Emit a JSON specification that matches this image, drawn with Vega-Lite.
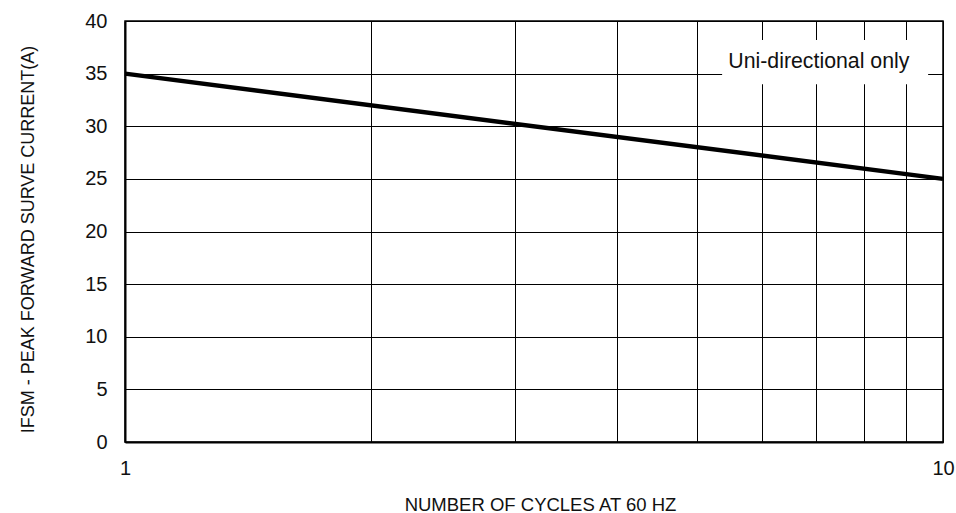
{
  "$schema": "https://vega.github.io/schema/vega-lite/v6.json",
  "width": 818,
  "height": 421,
  "autosize": {"type": "none"},
  "padding": {"left": 125, "top": 21, "right": 13, "bottom": 71},
  "background": "white",
  "config": {
    "font": "Liberation Sans",
    "view": {"stroke": "black", "strokeWidth": 1.5},
    "axis": {
      "labelFont": "Liberation Sans",
      "titleFont": "Liberation Sans",
      "labelColor": "#111",
      "titleColor": "#111",
      "titleFontWeight": "normal",
      "gridColor": "black",
      "gridOpacity": 1,
      "gridWidth": 1,
      "domainColor": "black",
      "domainWidth": 2,
      "ticks": false
    }
  },
  "datasets": {
    "curve": [
      {"cycles": 1, "current": 35},
      {"cycles": 10, "current": 25}
    ]
  },
  "layer": [
    {
      "data": {"name": "curve"},
      "mark": {"type": "line", "color": "black", "strokeWidth": 4.5},
      "encoding": {
        "x": {
          "field": "cycles",
          "type": "quantitative",
          "scale": {"type": "log", "domain": [1, 10], "nice": false},
          "axis": {
            "title": "NUMBER OF CYCLES AT 60 HZ",
            "values": [1, 2, 3, 4, 5, 6, 7, 8, 9, 10],
            "labelExpr": "(datum.value == 1 || datum.value == 10) ? format(datum.value, 'd') : ''",
            "labelFontSize": 20,
            "labelPadding": 16,
            "labelFlush": false,
            "titleFontSize": 18.5,
            "titleBaseline": "alphabetic",
            "titleAlign": "center",
            "titleX": 415,
            "titleY": 68,
            "grid": true
          }
        },
        "y": {
          "field": "current",
          "type": "quantitative",
          "scale": {"domain": [0, 40], "nice": false},
          "axis": {
            "title": "IFSM - PEAK FORWARD SURVE CURRENT(A)",
            "values": [0, 5, 10, 15, 20, 25, 30, 35, 40],
            "labelFontSize": 20,
            "labelPadding": 18,
            "titleFontSize": 18,
            "titleAngle": -90,
            "titleBaseline": "alphabetic",
            "titleX": -92,
            "titleY": 218,
            "grid": true
          }
        }
      }
    },
    {
      "data": {"values": [{}]},
      "mark": {"type": "rect", "fill": "white", "stroke": null},
      "encoding": {
        "x": {"datum": 5.37, "type": "quantitative"},
        "x2": {"datum": 9.59},
        "y": {"datum": 38.2, "type": "quantitative"},
        "y2": {"datum": 34.0}
      }
    },
    {
      "data": {"values": [{"label": "Uni-directional only"}]},
      "mark": {"type": "text", "fontSize": 21.3, "color": "#111", "align": "center", "baseline": "middle", "font": "Liberation Sans"},
      "encoding": {
        "x": {"datum": 7.05, "type": "quantitative"},
        "y": {"datum": 36.1, "type": "quantitative"},
        "text": {"field": "label"}
      }
    }
  ]
}
